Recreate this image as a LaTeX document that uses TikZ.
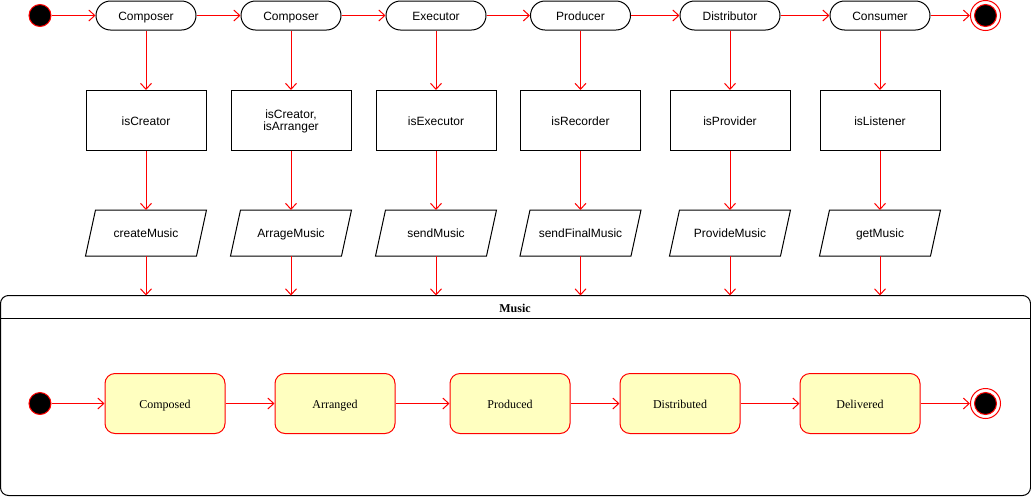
\documentclass[tikz,border=0pt]{standalone}
\usepackage{fontspec}
\setmainfont{Liberation Sans}
\newfontfamily\serifface{Liberation Serif}
\usetikzlibrary{arrows.meta}
\definecolor{uyel}{HTML}{FFFFC0}
\definecolor{ured}{HTML}{FF0000}
\begin{document}
\begin{tikzpicture}[x=1pt,y=-1pt,line width=1pt,
  every node/.style={font=\fontsize{12}{14}\selectfont},
  fixt/.style={text height=10.5pt, text depth=1pt},
  pill/.style={draw=black, rounded corners=14.5pt, minimum width=100pt, minimum height=29pt, inner sep=0pt, fixt},
  rbox/.style={draw=black, minimum width=120pt, minimum height=60pt, inner sep=0pt, align=center},
  pgram/.style={minimum width=120pt, minimum height=45pt, inner sep=0pt, fixt},
  state/.style={draw=ured, fill=uyel, rounded corners=10pt, minimum width=120pt, minimum height=60pt, inner sep=0pt, fixt, font=\serifface\fontsize{12}{14}\selectfont},
  startdot/.style={circle, draw=ured, fill=black, minimum size=22pt, inner sep=0pt},
  enddot/.style={circle, draw=ured, fill=white, minimum size=30pt, inner sep=0pt},
  flow/.style={draw=ured, -{Straight Barb[length=6pt,width=11pt]}},
]
\useasboundingbox (0,0) rectangle (1031,496);
% top row
\node[startdot] (s0) at (40,15.5) {};
\node[pill] (c1) at (146,15.5) {Composer};
\node[pill] (c2) at (291,15.5) {Composer};
\node[pill] (c3) at (436,15.5) {Executor};
\node[pill] (c4) at (580.5,15.5) {Producer};
\node[pill] (c5) at (730,15.5) {Distributor};
\node[pill] (c6) at (880,15.5) {Consumer};
\node[enddot] (e0) at (985.5,15.5) {};
\node[circle, fill=black, draw=ured, minimum size=22pt, inner sep=0pt] (e0i) at (985.5,15.5) {};
% rectangles
\node[rbox] (r1) at (146,120.5) {\rule{0pt}{10pt}isCreator};
\node[rbox] (r2) at (291,120.5) {\rule{0pt}{10pt}isCreator,\\[-2pt]isArranger};
\node[rbox] (r3) at (436,120.5) {\rule{0pt}{10pt}isExecutor};
\node[rbox] (r4) at (580.5,120.5) {\rule{0pt}{10pt}isRecorder};
\node[rbox] (r5) at (730,120.5) {\rule{0pt}{10pt}isProvider};
\node[rbox] (r6) at (880,120.5) {\rule{0pt}{10pt}isListener};
% parallelograms
\node[pgram] (p1) at (146,233) {createMusic};
\node[pgram] (p2) at (291,233) {ArrageMusic};
\node[pgram] (p3) at (436,233) {sendMusic};
\node[pgram] (p4) at (580.5,233) {sendFinalMusic};
\node[pgram] (p5) at (730,233) {ProvideMusic};
\node[pgram] (p6) at (880,233) {getMusic};
\foreach \n in {p1,p2,p3,p4,p5,p6}
  \draw ([xshift=10pt]\n.north west) -- (\n.north east) -- ([xshift=-10pt]\n.south east) -- (\n.south west) -- cycle;
% container
\draw[rounded corners=8pt] (0.5,495.5) rectangle (1030.5,295.5);
\draw (0.5,318.5) -- (1030.5,318.5);
\node[fixt, font=\serifface\bfseries\fontsize{12}{14}\selectfont] (title) at (515,308) {Music};
\coordinate (m1) at (146,295.5);
\coordinate (m2) at (291,295.5);
\coordinate (m3) at (436,295.5);
\coordinate (m4) at (580.5,295.5);
\coordinate (m5) at (730,295.5);
\coordinate (m6) at (880,295.5);
% inner states
\node[startdot] (s1) at (40,403.5) {};
\node[state] (q1) at (165,403.5) {Composed};
\node[state] (q2) at (335,403.5) {Arranged};
\node[state] (q3) at (510,403.5) {Produced};
\node[state] (q4) at (680,403.5) {Distributed};
\node[state] (q5) at (860,403.5) {Delivered};
\node[enddot] (e1) at (985.5,403.5) {};
\node[circle, fill=black, draw=ured, minimum size=22pt, inner sep=0pt] (e1i) at (985.5,403.5) {};
% connectors
\draw[flow] (s0) -- (c1);
\draw[flow] (c1) -- (c2);
\draw[flow] (c2) -- (c3);
\draw[flow] (c3) -- (c4);
\draw[flow] (c4) -- (c5);
\draw[flow] (c5) -- (c6);
\draw[flow] (c6) -- (e0);
\foreach \i in {1,...,6} {
  \draw[flow] (c\i.south) -- (r\i.north);
  \draw[flow] (r\i.south) -- (p\i.north);
  \draw[flow] (p\i.south) -- (m\i);
}
\draw[flow] (s1) -- (q1);
\draw[flow] (q1) -- (q2);
\draw[flow] (q2) -- (q3);
\draw[flow] (q3) -- (q4);
\draw[flow] (q4) -- (q5);
\draw[flow] (q5) -- (e1);
\end{tikzpicture}
\end{document}
